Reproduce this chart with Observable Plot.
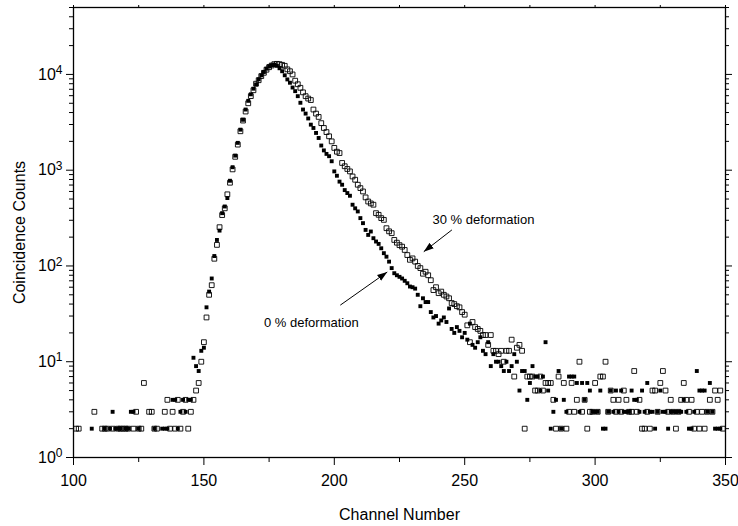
<!DOCTYPE html>
<html>
<head>
<meta charset="utf-8">
<script src="https://cdn.jsdelivr.net/npm/d3@7"></script>
<script src="https://cdn.jsdelivr.net/npm/@observablehq/plot@0.6"></script>
<style>
  html, body { margin: 0; padding: 0; background: #fff; }
  #chart { width: 738px; height: 526px; }
</style>
</head>
<body>
<div id="chart"></div>
<script>
// Channels 100 ... 349
const channels = d3.range(100, 350);

// 0 % deformation (filled squares), one value per channel; null = no point
const zeroDeformation = [
  null,null,null,null,null,null,null,2,null,null,
  null,null,2,null,2,3,2,2,2,null,
  2,2,3,3,null,2,null,null,null,null,
  null,2,null,null,2,2,2,null,4,4,
  2,3,4,3,4,4,11,9,8,13,
  14,37,54,74,127,187,234,356,418,512,
  776,1075,1420,1930,2650,3360,4300,5300,6200,7100,
  7860,8900,9770,10600,11500,12200,12500,12600,12300,11600,
  10800,9800,8870,8190,7300,6690,5930,5060,4300,3900,
  3470,2990,2760,2450,2170,1810,1610,1480,1400,1240,
  972,875,760,705,620,577,541,436,400,371,
  316,280,238,211,229,195,180,170,153,136,
  125,111,95,84,80,77,74,70,66,61,
  60,58,50,38,46,42,42,33,29,30,
  25,27,29,26,36,22,20,23,21,18,
  20,17,25,15,14,16,18,13,12,16,
  9,12,10,10,9,8,10,8,9,12,
  10,5,8,8,4,6,9,7,7,5,
  7,16,5,2,3,4,8,2,4,3,
  7,7,7,6,3,6,4,6,5,3,
  3,3,5,2,2,3,5,3,5,3,
  5,3,3,3,5,4,4,3,5,3,
  6,3,3,2,3,5,3,3,2,3,
  3,3,3,3,4,3,2,2,3,8,
  5,5,5,3,6,3,2,2,2,null
];

// 30 % deformation (open squares)
const thirtyDeformation = [
  null,2,2,null,null,null,null,null,3,null,
  null,2,2,2,null,2,null,2,2,2,
  2,2,null,2,3,2,2,6,null,3,
  3,2,2,null,null,3,4,2,3,2,
  4,2,3,4,2,3,4,5,6,10,
  16,29,50,63,119,166,254,340,400,560,
  740,1020,1380,1850,2550,3300,4100,5000,5940,6840,
  8000,8700,9600,10400,11200,11900,12400,12800,12900,12800,
  12600,12300,11300,10800,10000,8600,7900,7250,6500,5930,
  5600,5400,4300,3900,3600,3100,2760,2500,2260,2000,
  1710,1560,1510,1190,1100,1030,972,860,795,705,
  650,600,520,471,450,436,356,342,316,303,
  248,230,220,187,175,165,159,147,130,116,
  120,111,100,95,83,87,80,71,56,60,
  52,54,50,48,46,41,40,38,37,33,
  31,24,16,26,23,22,21,19,19,15,
  19,13,13,12,13,10,13,13,17,7,
  14,15,13,2,7,7,7,5,5,7,
  5,6,6,6,4,2,7,2,6,2,
  3,6,3,4,10,3,4,2,3,3,
  6,3,7,7,10,3,5,4,3,4,
  3,5,4,3,3,8,3,4,2,2,
  3,2,5,5,3,6,8,5,3,4,
  3,2,3,4,6,4,3,4,2,3,
  2,3,2,3,4,3,5,4,5,2
];

// Axis ticks
const xMajorTicks = [100, 150, 200, 250, 300, 350];
const xMinorTicks = [125, 175, 225, 275, 325];
const yMajorTicks = [1, 10, 100, 1000, 10000];
const yMinorMultipliers = [2, 3, 4, 5, 6, 7, 8, 9];

// Annotations (in data coordinates)
const annotationLabels = ["30 % deformation", "0 % deformation"];
const annotationChannel = [257.2, 191.2];
const annotationCount = [303, 25.7];
const arrowFromChannel = [245.1, 202.3];
const arrowFromCount = [238, 39];
const arrowToChannel = [234.3, 220.3];
const arrowToCount = [141, 86.5];

// Build tables
const zeroData = channels.map((ch, i) => ({ch, v: zeroDeformation[i]})).filter(d => d.v != null);
const thirtyData = channels.map((ch, i) => ({ch, v: thirtyDeformation[i]})).filter(d => d.v != null);
const yMinorTicks = yMajorTicks.flatMap(m => yMinorMultipliers.map(k => k * m)).filter(v => v <= 50000);
const xTopTicks = [...xMajorTicks, ...xMinorTicks].sort((a, b) => a - b);
const notes = annotationLabels.map((label, i) => ({label, ch: annotationChannel[i], v: annotationCount[i]}));
const arrows = annotationLabels.map((label, i) => ({
  x1: arrowFromChannel[i], y1: arrowFromCount[i], x2: arrowToChannel[i], y2: arrowToCount[i]
}));

const blank = () => "";

const chart = Plot.plot({
  width: 738,
  height: 526,
  marginLeft: 73,
  marginRight: 13,
  marginTop: 7,
  marginBottom: 69,
  style: {fontFamily: "'Liberation Sans', Arial, sans-serif", fontSize: "16px", background: "white", color: "black"},
  x: {domain: [100, 350]},
  y: {type: "log", domain: [1, 50000]},
  marks: [
    Plot.frame({stroke: "black", strokeWidth: 1.3}),
    Plot.axisX(xMajorTicks, {anchor: "bottom", tickSize: 8, tickPadding: 9, tickFormat: d => String(d),
      label: "Channel Number", labelAnchor: "center", labelOffset: 62, labelArrow: "none"}),
    Plot.axisX(xMinorTicks, {anchor: "bottom", tickSize: 5, tickFormat: blank, label: null}),
    Plot.axisX(xTopTicks, {anchor: "top", tickSize: 3, tickFormat: blank, label: null}),
    Plot.axisY(yMajorTicks, {anchor: "left", tickSize: 7, tickPadding: 4,
      tickFormat: d => String(Math.round(Math.log10(d))),
      label: "Coincidence Counts", labelAnchor: "center", labelOffset: 60, labelArrow: "none"}),
    Plot.axisY(yMinorTicks, {anchor: "left", tickSize: 4, tickFormat: blank, label: null}),
    Plot.axisY(yMajorTicks, {anchor: "right", tickSize: 6, tickFormat: blank, label: null}),
    Plot.axisY(yMinorTicks, {anchor: "right", tickSize: 3, tickFormat: blank, label: null}),
    Plot.dot(zeroData, {x: "ch", y: "v", symbol: "square", r: 2.2, fill: "black", stroke: "none"}),
    Plot.dot(thirtyData, {x: "ch", y: "v", symbol: "square", r: 2.7, fill: "none", stroke: "black", strokeWidth: 0.9}),
    Plot.link(arrows, {x1: "x1", y1: "y1", x2: "x2", y2: "y2", stroke: "black", strokeWidth: 1, markerEnd: "arrow"}),
    Plot.text(notes, {x: "ch", y: "v", text: "label", fontSize: 13, textAnchor: "middle", fill: "black"})
  ]
});

// Render y tick labels as 10 with superscript exponent
chart.querySelectorAll('g[aria-label="y-axis tick label"] text').forEach(t => {
  const e = t.textContent;
  if (e === "") return;
  t.textContent = "10";
  const sup = document.createElementNS("http://www.w3.org/2000/svg", "tspan");
  sup.setAttribute("dy", "-0.45em");
  sup.setAttribute("font-size", "0.75em");
  sup.textContent = e;
  t.appendChild(sup);
});

// Filled triangular arrowheads
chart.querySelectorAll("marker").forEach(m => {
  m.setAttribute("viewBox", "-10 -4 10 8");
  m.setAttribute("markerWidth", "10");
  m.setAttribute("markerHeight", "8");
  m.setAttribute("refX", "0");
  m.setAttribute("refY", "0");
  m.setAttribute("orient", "auto");
  const p = m.querySelector("path");
  if (p) {
    p.setAttribute("d", "M-10,-3.5L0,0L-10,3.5Z");
    p.setAttribute("fill", "black");
    p.setAttribute("stroke", "none");
  }
});

document.getElementById("chart").appendChild(chart);
</script>
</body>
</html>
